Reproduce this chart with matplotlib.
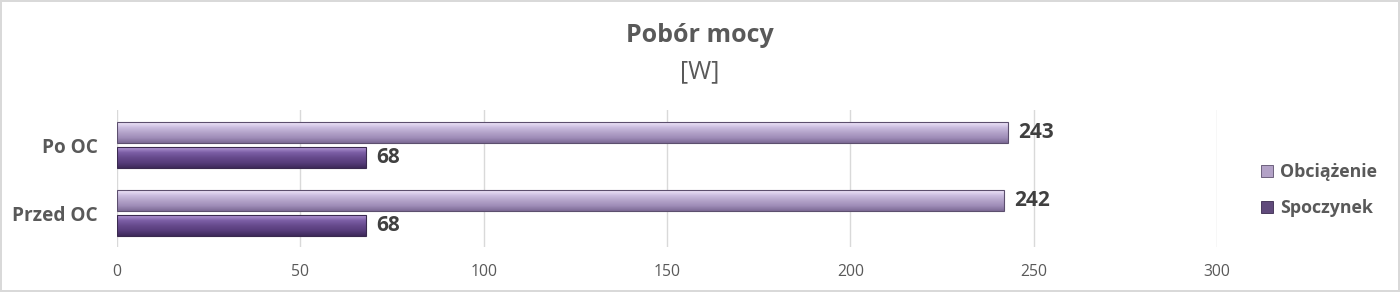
import numpy as np
import matplotlib
matplotlib.use("Agg")
import matplotlib.pyplot as plt
from matplotlib.patches import Patch
from matplotlib.colors import LinearSegmentedColormap

categories = ["Przed OC", "Po OC"]
series_names = ["Obciążenie", "Spoczynek"]
obciazenie = [242, 243]
spoczynek = [68, 68]
x_ticks = [0, 50, 100, 150, 200, 250, 300]

plt.rcParams['font.family'] = ['Open Sans', 'DejaVu Sans']

fig = plt.figure(figsize=(14, 2.92), dpi=100)
fig.patch.set_facecolor('white')
fig.patch.set_edgecolor('#d9d9d9')
fig.patch.set_linewidth(1.5)

ax = fig.add_axes([117/1400, 1-247/292, 1100/1400, 137/292])

y = np.arange(len(categories))
h = 0.30
off = 0.185

grad_light = LinearSegmentedColormap.from_list('l', ['#f1e8fb', '#cbbde0', '#b3a3c9', '#9f8db8', '#7d6b96'])
grad_dark = LinearSegmentedColormap.from_list('d', ['#b49ad6', '#7d5fa6', '#664a8c', '#573d7b', '#3e2a5a'])

b1 = ax.barh(y + off, obciazenie, height=h, color='#b3a2c7', edgecolor='#5c4f6e', linewidth=0.8, zorder=3)
b2 = ax.barh(y - off, spoczynek, height=h, color='#604a7b', edgecolor='#3a2a4f', linewidth=0.8, zorder=3)

grad = np.linspace(0, 1, 64).reshape(-1, 1)
for bars, cmap in ((b1, grad_light), (b2, grad_dark)):
    for r in bars:
        x0, yb = r.get_x(), r.get_y()
        w, hh = r.get_width(), r.get_height()
        im = ax.imshow(grad, cmap=cmap, extent=(x0, x0 + w, yb, yb + hh), origin='upper',
                       aspect='auto', zorder=3.5, interpolation='bilinear')
        im.set_clip_path(r)
        r.set_facecolor('none')
        r.set_zorder(4)

for bars, vals in ((b1, obciazenie), (b2, spoczynek)):
    for r, v in zip(bars, vals):
        ax.text(v + 2.8, r.get_y() + r.get_height() / 2, str(v), va='center', ha='left',
                fontsize=15, fontweight='bold', color='#404040', zorder=5)

ax.set_xlim(0, 300)
ax.set_ylim(-0.5, 1.515)
ax.set_xticks(x_ticks)
ax.set_xticklabels([str(t) for t in x_ticks], fontsize=11.3, color='#595959')
ax.set_yticks(y)
ax.set_yticklabels(categories, fontsize=13.7, fontweight='bold', color='#595959')
ax.tick_params(axis='both', length=0)
ax.tick_params(axis='x', pad=12)
ax.tick_params(axis='y', pad=14)
ax.xaxis.grid(True, color='#d9d9d9', linewidth=1)
ax.set_axisbelow(True)
for s in ax.spines.values():
    s.set_visible(False)

fig.text(0.5, 1 - 36/292, "Pobór mocy", ha='center', va='center', fontsize=18,
         fontweight='bold', color='#595959')
fig.text(0.5, 1 - 72/292, "[W]", ha='center', va='center', fontsize=18, color='#595959')

handles = [Patch(facecolor='#b3a2c7', edgecolor='#5c4f6e', linewidth=0.6),
           Patch(facecolor='#604a7b', edgecolor='#3a2a4f', linewidth=0.6)]
fig.legend(handles, series_names, loc='center left', bbox_to_anchor=(1261/1400, 1 - 190/292),
           frameon=False, borderpad=0, borderaxespad=0, handlelength=0.65, handleheight=0.65,
           handletextpad=0.4, labelspacing=1.0, prop={'size': 12.8, 'weight': 'bold'},
           labelcolor='#595959')

fig.savefig('out.png', dpi=100)
